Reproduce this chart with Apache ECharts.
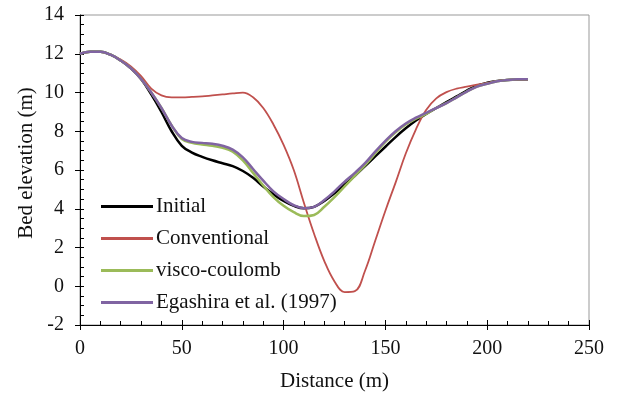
<!DOCTYPE html>
<html>
<head>
<meta charset="utf-8">
<script src="https://cdn.jsdelivr.net/npm/echarts@6/dist/echarts.min.js"></script>
<style>
  html, body { margin: 0; padding: 0; background: #fff; }
  #chartMain { width: 617px; height: 397px; }
</style>
</head>
<body>
<div id="chartMain"></div>
<script>
var myChart;
var option;

// series names (legend order)
var seriesNames = ['Initial', 'Conventional', 'visco-coulomb', 'Egashira et al. (1997)'];

// distance (m), shared by all series
var distance = [0, 5, 10, 15, 20, 25, 30, 35, 40, 45, 50, 55, 60, 65, 70, 75, 80, 85, 90, 95, 100, 105, 110, 115, 120, 125, 130, 135, 140, 145, 150, 155, 160, 165, 170, 175, 180, 185, 190, 195, 200, 205, 210, 215, 220];

// bed elevation (m)
var initialY = [12.0, 12.1, 12.1, 11.95, 11.65, 11.25, 10.7, 9.9, 9.0, 8.0, 7.25, 6.9, 6.68, 6.5, 6.35, 6.2, 5.95, 5.6, 5.15, 4.75, 4.4, 4.15, 4.02, 4.1, 4.4, 4.8, 5.25, 5.7, 6.2, 6.7, 7.2, 7.7, 8.15, 8.55, 8.9, 9.2, 9.5, 9.8, 10.1, 10.35, 10.5, 10.6, 10.65, 10.67, 10.67];
var convY = [12.0, 12.1, 12.1, 11.95, 11.7, 11.35, 10.85, 10.2, 9.85, 9.75, 9.75, 9.77, 9.8, 9.85, 9.9, 9.95, 9.99, 9.75, 9.2, 8.35, 7.3, 6.0, 4.3, 2.7, 1.3, 0.25, -0.3, -0.25, 0.8, 2.35, 3.9, 5.35, 6.85, 8.1, 9.1, 9.7, 10.02, 10.2, 10.3, 10.4, 10.5, 10.6, 10.65, 10.67, 10.67];
var viscoY = [12.0, 12.1, 12.1, 11.95, 11.65, 11.25, 10.7, 10.0, 9.2, 8.3, 7.6, 7.4, 7.32, 7.25, 7.15, 6.95, 6.5, 5.85, 5.2, 4.6, 4.15, 3.82, 3.62, 3.68, 4.1, 4.6, 5.15, 5.7, 6.25, 6.85, 7.45, 7.95, 8.35, 8.65, 8.9, 9.2, 9.45, 9.75, 10.05, 10.3, 10.45, 10.58, 10.65, 10.68, 10.68];
var egaY = [12.0, 12.1, 12.1, 11.95, 11.65, 11.25, 10.7, 10.0, 9.2, 8.3, 7.65, 7.45, 7.4, 7.35, 7.25, 7.05, 6.65, 6.05, 5.45, 4.9, 4.5, 4.18, 4.03, 4.1, 4.45, 4.9, 5.4, 5.85, 6.35, 6.95, 7.5, 8.0, 8.4, 8.7, 8.95, 9.2, 9.45, 9.75, 10.05, 10.3, 10.45, 10.58, 10.65, 10.68, 10.68];

var seriesColors = ['#000000', '#c0504d', '#9bbb59', '#8064a2'];
var seriesWidths = [2.5, 1.8, 2.5, 2.5];

function pairs(xs, ys) {
	var out = [];
	for (var i = 0; i < xs.length; i++) {
		out.push([xs[i], ys[i]]);
	}
	return out;
}

var serif = '"Liberation Serif", "DejaVu Serif", serif';

myChart = echarts.init(document.getElementById('chartMain'));

var allY = [initialY, convY, viscoY, egaY];
var series = [];
for (var i = 0; i < seriesNames.length; i++) {
	series.push({
		name: seriesNames[i],
		type: 'line',
		xAxisIndex: 0,
		yAxisIndex: 0,
		data: pairs(distance, allY[i]),
		smooth: 0.4,
		symbol: 'none',
		lineStyle: { color: seriesColors[i], width: seriesWidths[i] },
		itemStyle: { color: seriesColors[i] }
	});
}

option = {
	backgroundColor: '#fff',
	animation: false,
	grid: {
		left: 80, right: 28, top: 15, bottom: 72,
		show: true, borderColor: '#999', borderWidth: 1
	},
	legend: {
		orient: 'vertical',
		left: 96,
		top: 191,
		itemWidth: 52,
		itemHeight: 14,
		itemGap: 11,
		data: seriesNames.map(function(n, i) {
			return { name: n, icon: 'path://M0,0L52,0L52,3L0,3Z', itemStyle: { color: seriesColors[i] } };
		}),
		textStyle: { fontFamily: serif, fontSize: 21, color: '#111', padding: [0, 0, 0, -2] }
	},
	xAxis: [{
		type: 'value',
		min: 0, max: 250, interval: 50,
		name: 'Distance (m)',
		nameLocation: 'middle',
		nameGap: 46,
		nameMoveOverlap: false,
		nameTextStyle: { fontFamily: serif, fontSize: 21, color: '#111' },
		axisLine: { show: true, onZero: false, lineStyle: { color: '#000', width: 1 } },
		axisTick: { show: true, inside: true, length: 5, lineStyle: { color: '#000' } },
		minorTick: { show: true, splitNumber: 5, length: 4, lineStyle: { color: '#000' } },
		axisLabel: { fontFamily: serif, fontSize: 20, color: '#111', margin: 14 },
		splitLine: { show: false }
	}, {
		type: 'value',
		min: 0, max: 250, interval: 50,
		position: 'bottom',
		axisLine: { show: false, onZero: false },
		axisTick: { show: true, inside: false, length: 5, lineStyle: { color: '#000' } },
		axisLabel: { show: false },
		splitLine: { show: false }
	}],
	yAxis: [{
		type: 'value',
		min: -2, max: 14, interval: 2,
		name: 'Bed elevation (m)',
		nameLocation: 'middle',
		nameGap: 43,
		nameMoveOverlap: false,
		nameTextStyle: { fontFamily: serif, fontSize: 21, color: '#111', padding: [0, 0, 0, 14] },
		axisLine: { show: true, onZero: false, lineStyle: { color: '#000', width: 1 } },
		axisTick: { show: true, inside: true, length: 4, lineStyle: { color: '#000' } },
		minorTick: { show: true, splitNumber: 4, length: 4, lineStyle: { color: '#000' } },
		axisLabel: { fontFamily: serif, fontSize: 20, color: '#111', margin: 16 },
		splitLine: { show: false }
	}, {
		type: 'value',
		min: -2, max: 14, interval: 2,
		position: 'left',
		axisLine: { show: false, onZero: false },
		axisTick: { show: true, inside: false, length: 5, lineStyle: { color: '#000' } },
		axisLabel: { show: false },
		splitLine: { show: false }
	}],
	series: series
};

myChart.setOption(option);
</script>
</body>
</html>
